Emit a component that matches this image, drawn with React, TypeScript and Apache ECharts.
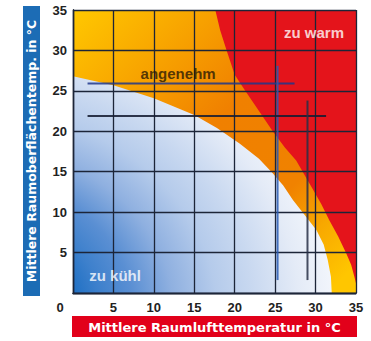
import { useEffect, useRef } from 'react';
import * as echarts from 'echarts';

const FONT = '"Liberation Sans", Arial, sans-serif';
const TITLE_FONT = '"DejaVu Sans", sans-serif';

const xTicks = [0, 5, 10, 15, 20, 25, 30, 35];

// boundary between "zu kühl" and "angenehm" (from left edge down to bottom)
const coolBoundary: [number, number][] = [
  [0, 26.8], [5, 25.7], [10, 24.1], [15, 22], [17.8, 20.4], [20.6, 18.5],
  [23, 16.6], [24.7, 14.8], [26, 13.3], [27.2, 11.5], [28.7, 9.6],
  [30.1, 7.8], [31, 6], [31.5, 4.1], [31.9, 2], [32, 0],
];

// boundary between "angenehm" and "zu warm" (from top edge down to right edge)
const warmBoundary: [number, number][] = [
  [17.6, 35], [18.2, 32.5], [19, 30], [20, 27], [21.3, 25], [23, 22.5],
  [24.7, 20], [26.2, 18], [27.6, 16.4], [29.5, 13.1], [30.7, 11],
  [31.7, 9], [32.8, 7], [33.8, 4.9], [34.4, 3.5], [34.8, 2], [35, 1.2],
];

const guide1H: [number, number][] = [[1.8, 25.9], [27.4, 25.9]];
const guide1V: [number, number][] = [[25.3, 28.1], [25.3, 1.6]];
const guide2H: [number, number][] = [[1.8, 21.9], [31.3, 21.9]];
const guide2V: [number, number][] = [[29.0, 23.8], [29.0, 1.6]];

const regionLabelNames = ['zu warm', 'angenehm', 'zu kühl'];
const regionLabelX = [29.8, 13, 5.2];
const regionLabelY = [32.2, 27.2, 2.2];
const regionLabelColors = ['#ffffff', '#2a1a05', '#ffffff'];

const xTitle = 'Mittlere Raumlufttemperatur in °C';
const yTitle = 'Mittlere Raumoberflächentemp. in °C';

export default function App() {
  const ref = useRef<HTMLDivElement>(null);
  useEffect(() => {
    document.body.style.margin = '0';
    const chart = echarts.init(ref.current!, undefined, { renderer: 'svg' });
    const gridColor = '#1c2538';
    const regions = [
      [[0, 0], [35, 0], [35, 35], [0, 35]],
      [[0, 0], ...coolBoundary],
      [...warmBoundary, [35, 35]],
    ];
    const fills: any[] = [
      {
        type: 'linear', x: 0, y: 0, x2: 1, y2: 1,
        colorStops: [
          { offset: 0, color: '#ffc800' },
          { offset: 0.28, color: '#f69c00' },
          { offset: 0.45, color: '#f08000' },
          { offset: 0.7, color: '#f08200' },
          { offset: 0.82, color: '#f8a800' },
          { offset: 0.95, color: '#ffc600' },
        ],
      },
      {
        type: 'radial', x: -0.37, y: 1.08, r: 1.4,
        colorStops: [
          { offset: 0, color: '#1565c0' },
          { offset: 0.27, color: '#1f70c4' },
          { offset: 0.34, color: '#3d80cc' },
          { offset: 0.43, color: '#5a8fd3' },
          { offset: 0.54, color: '#8fb0e0' },
          { offset: 0.66, color: '#b5cbeb' },
          { offset: 0.76, color: '#c8d8f0' },
          { offset: 0.89, color: '#e4ebf7' },
          { offset: 1, color: '#f4f7fc' },
        ],
      },
      '#e4141b',
    ];
    const guideSeries = (data: [number, number][], color: string) => ({
      type: 'line',
      data,
      symbol: 'none',
      z: 5,
      lineStyle: { color, width: 2 },
      silent: true,
    });
    chart.setOption({
      animation: false,
      grid: { left: 73, right: 15, top: 10, bottom: 48 },
      xAxis: [
        {
          type: 'value', min: 0, max: 35, interval: 5, position: 'bottom', z: 3,
          axisLine: { show: true, lineStyle: { color: gridColor, width: 1.3 } },
          axisTick: { show: false },
          axisLabel: {
            formatter: (v: number) => (v === 0 ? '' : String(v)),
            color: '#222', fontWeight: 'bold', fontSize: 13, margin: 8, fontFamily: FONT,
          },
          splitLine: { show: true, lineStyle: { color: gridColor, width: 1.3 } },
        },
        {
          type: 'value', min: 0, max: 35, interval: 5, position: 'top', z: 3,
          axisLine: { show: true, lineStyle: { color: gridColor, width: 1.3 } },
          axisTick: { show: false }, axisLabel: { show: false }, splitLine: { show: false },
        },
      ],
      yAxis: [
        {
          type: 'value', min: 0, max: 35, interval: 5, position: 'left', z: 3,
          axisLine: { show: true, lineStyle: { color: gridColor, width: 1.3 } },
          axisTick: { show: false },
          axisLabel: {
            formatter: (v: number) => (v === 0 ? '' : String(v)),
            color: '#222', fontWeight: 'bold', fontSize: 13, margin: 6, fontFamily: FONT,
          },
          splitLine: { show: true, lineStyle: { color: gridColor, width: 1.3 } },
        },
        {
          type: 'value', min: 0, max: 35, interval: 5, position: 'right', z: 3,
          axisLine: { show: true, lineStyle: { color: gridColor, width: 1.3 } },
          axisTick: { show: false }, axisLabel: { show: false }, splitLine: { show: false },
        },
      ],
      series: [
        {
          type: 'custom',
          z: 1,
          silent: true,
          data: [[0, 0], [0, 0], [0, 0]],
          renderItem: (params: any, api: any) => {
            const pts = regions[params.dataIndex].map((p) => api.coord(p));
            return { type: 'polygon', shape: { points: pts }, style: { fill: fills[params.dataIndex] } };
          },
        },
        guideSeries(guide1H, 'rgba(30,55,140,0.85)'),
        guideSeries(guide1V, 'rgba(40,90,180,0.85)'),
        guideSeries(guide2H, 'rgba(22,28,50,0.88)'),
        guideSeries(guide2V, 'rgba(40,48,70,0.85)'),
        {
          type: 'scatter',
          z: 6,
          symbolSize: 0,
          silent: true,
          data: regionLabelNames.map((n, i) => ({
            name: n,
            value: [regionLabelX[i], regionLabelY[i]],
            label: { color: regionLabelColors[i] },
          })),
          label: {
            show: true, position: 'inside', formatter: '{b}',
            fontWeight: 'bold', fontSize: 15, fontFamily: FONT,
          },
        },
      ],
      graphic: [
        { type: 'rect', z: 10, shape: { x: 23, y: 6, width: 17, height: 290 }, style: { fill: '#1c6cb5' } },
        {
          type: 'text', z: 11, x: 31.5, y: 151, rotation: Math.PI / 2,
          style: { text: yTitle, fill: '#fff', font: `bold 12.5px ${TITLE_FONT}`, textAlign: 'center', textVerticalAlign: 'middle' },
        },
        { type: 'rect', z: 10, shape: { x: 72, y: 316, width: 285, height: 21 }, style: { fill: '#e2001a' } },
        {
          type: 'text', z: 11, x: 214.5, y: 327,
          style: { text: xTitle, fill: '#fff', font: `bold 13px ${TITLE_FONT}`, textAlign: 'center', textVerticalAlign: 'middle' },
        },
        {
          type: 'text', z: 11, x: 60, y: 307,
          style: { text: String(xTicks[0]), fill: '#222', font: `bold 13px ${FONT}`, textAlign: 'center', textVerticalAlign: 'middle' },
        },
      ],
    });
    return () => chart.dispose();
  }, []);
  return <div ref={ref} style={{ width: 371, height: 341 }} />;
}
